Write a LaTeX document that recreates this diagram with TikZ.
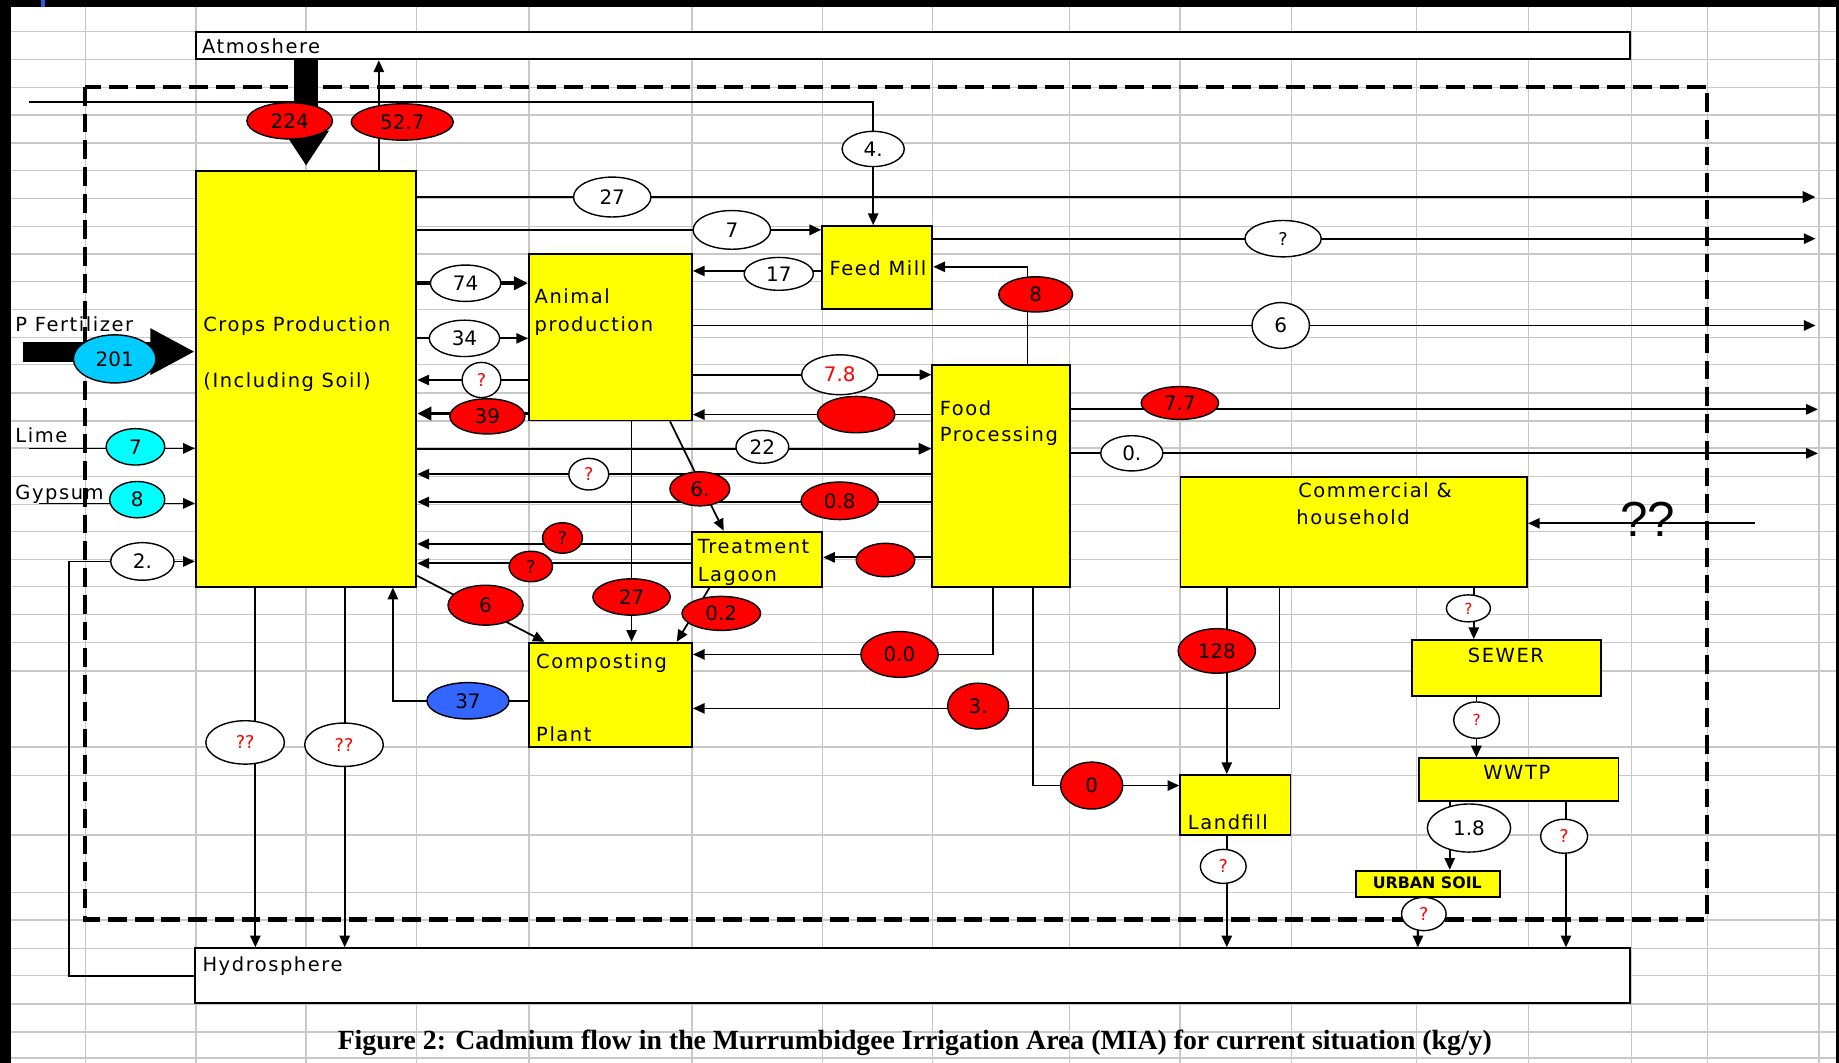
\documentclass[tikz,border=0pt]{standalone}
\usepackage{graphicx}
\usepackage{fontspec}
\usetikzlibrary{arrows.meta,shapes.geometric,calc}

\newfontfamily\dvs[LetterSpace=8]{DejaVu Sans}
\newfontfamily\dvsplain{DejaVu Sans}
\newfontfamily\lsans{Liberation Sans}
\newfontfamily\lserif{Liberation Serif}

\definecolor{cellgrid}{RGB}{200,200,200}
\definecolor{boxyellow}{RGB}{255,255,0}
\definecolor{flowred}{RGB}{255,0,0}
\definecolor{flowcyan}{RGB}{0,204,255}
\definecolor{flowaqua}{RGB}{0,255,255}
\definecolor{flowblue}{RGB}{51,102,255}
\definecolor{tabblue}{RGB}{40,90,220}

\newcommand\lblfont{\dvs\fontsize{8.3}{10}\selectfont}
\newcommand\numfont{\dvsplain\fontsize{8.5}{10}\selectfont}
\newcommand\qfont{\dvsplain\fontsize{7.5}{9}\selectfont}
\newcommand\qsfont{\dvsplain\fontsize{6.5}{8}\selectfont}

\pgfdeclarelayer{sheet}
\pgfdeclarelayer{wires}
\pgfsetlayers{sheet,wires,main}

\tikzset{
  x=0.5pt, y=-0.5pt,
  gridln/.style={draw=cellgrid, line width=0.55pt},
  box/.style={rectangle, draw, line width=0.8pt, fill=boxyellow, inner sep=0pt},
  sphere/.style={rectangle, draw, line width=0.8pt, fill=white, inner sep=0pt},
  ell/.style={ellipse, draw, line width=0.6pt, inner sep=0pt, font=\numfont},
  wht/.style={ell, fill=white},
  redov/.style={ell, fill=flowred},
  blueov/.style={ell, fill=flowblue},
  cyanov/.style={ell, fill=flowcyan},
  aquaov/.style={ell, fill=flowaqua},
  qred/.style={text=flowred, font=\qfont},
  qsmall/.style={font=\qsfont},
  qblack/.style={font=\qfont},
  wire/.style={line width=0.75pt},
  arr/.style={wire, -{Triangle[length=5pt,width=4.4pt]}},
  heavy/.style={line width=1.6pt, -{Triangle[length=6pt,width=5.6pt]}},
  medium/.style={line width=1.05pt, -{Triangle[length=5.5pt,width=4.8pt]}},
  boundary/.style={line width=1.8pt, dash pattern=on 8pt off 3.4pt},
  lbl/.style={font=\lblfont, inner sep=0pt, anchor=base west},
  lblc/.style={font=\lblfont, inner sep=0pt, anchor=base},
}

% rectangle from its two corners
\newcommand\blk[6]{\node[#1, minimum width={(#5-#3)*0.5pt}, minimum height={(#6-#4)*0.5pt}] (#2) at ({(#3+#5)/2},{(#4+#6)/2}) {};}
% flow value in an oval: style, name, centre, width, height, text
\newcommand\ov[6]{\node[#1, minimum width={#4*0.5pt}, minimum height={#5*0.5pt}] (#2) at (#3) {#6};}

\begin{document}
\begin{tikzpicture}
\useasboundingbox (0,0) rectangle (1568,906);

% worksheet background and cell grid
\begin{pgfonlayer}{sheet}
  \fill[white] (0,0) rectangle (1568,906);
  \foreach \gx in {73,167,261,355,451,590,701,795,912,1006,1101,1208,1303,1391,1456,1551}
    \draw[gridln] (\gx,5.7) -- (\gx,906);
  \foreach \gy in {27,50.6,74.5,98,122,145.5,169,193,216.6,240,264,288,311,335,359,382,406,430,453,477,500,524,548,572,637,661,712,761,784.5,808.5,832,856,880,902}
    \draw[gridln] (9.4,\gy) -- (1565,\gy);
  \fill[black] (0,0) rectangle (9.4,906);
  \fill[black] (0,0) rectangle (1568,5.7);
  \fill[black] (1565,0) rectangle (1568,906);
  \fill[tabblue] (35,0) rectangle (38,5.7);
\end{pgfonlayer}

% compartments
\blk{sphere}{atm}{167}{27}{1390}{50.6}
\blk{sphere}{hyd}{166.5}{808.5}{1390}{855.5}
\blk{box}{crops}{167}{145.5}{355}{500.2}
\blk{box}{animal}{451}{216.6}{590}{358.5}
\blk{box}{feed}{701}{192.7}{795}{263.8}
\blk{box}{food}{795}{311.2}{912}{500.2}
\blk{box}{lagoon}{590}{453.3}{701}{500.2}
\blk{box}{compost}{451}{548}{590}{636.7}
\blk{box}{comm}{1006.5}{406.4}{1302}{500.2}
\blk{box}{sewer}{1204}{545.7}{1364.8}{593.5}
\blk{box}{wwtp}{1209.6}{646.6}{1380}{682.7}
\blk{box}{landfill}{1006.3}{660.8}{1100.3}{712}
\blk{box}{urban}{1156.5}{742.4}{1279}{765.1}

% flow values
\ov{redov}{e224}{247,103}{73}{31}{224}
\ov{redov}{e527}{343,104}{87}{31}{52.7}
\ov{wht}{e4}{744.5,127}{53}{30}{4.}
\ov{wht}{e27}{522,168}{66}{34}{27}
\ov{wht}{e7}{624,196}{66}{33}{7}
\ov{wht,qblack}{eqa}{1094,203.5}{65}{31}{?}
\ov{wht}{e17}{664,233.5}{59}{28}{17}
\ov{redov}{e8}{883,251}{63}{30}{8}
\ov{wht}{e74}{397,241.5}{60}{31}{74}
\ov{wht}{e34}{396,288.5}{60}{31}{34}
\ov{wht}{e6w}{1092,277.5}{49}{39}{6}
\ov{wht,qred}{eqb}{410.5,324}{33}{30}{?}
\ov{wht,text=flowred}{e78}{716,319.5}{65}{34}{7.8}
\ov{redov}{e39}{415.5,355}{64}{30}{39}
\ov{redov}{eblA}{730,353.5}{66}{31}{}
\ov{redov}{e77}{1006,343.6}{66}{28}{7.7}
\ov{wht}{e22}{650,381}{45}{28}{22}
\ov{wht}{e0d}{965,386.5}{53}{30}{0.}
\ov{wht,qred}{eqc}{502,404.3}{34}{27}{?}
\ov{redov}{e6d}{596.7,416.8}{51}{29}{6.}
\ov{redov}{e08}{716,427}{66}{32}{0.8}
\ov{redov,qblack}{eqd}{479.6,458.7}{34}{26}{?}
\ov{redov,qblack}{eqe}{452.6,483}{37}{26}{?}
\ov{redov}{eblB}{755,477.5}{50}{28.5}{}
\ov{redov}{e6r}{414,516}{64}{34}{6}
\ov{redov}{e27r}{538.5,509}{66}{31}{27}
\ov{redov}{e02}{615,523}{67}{29}{0.2}
\ov{redov}{e00}{767,558}{66}{39}{0.0}
\ov{redov}{e3}{834,602}{52}{39}{3.}
\ov{blueov}{e37}{399,597.5}{70}{31}{37}
\ov{redov}{e128}{1037.5,555}{66}{38}{128}
\ov{redov}{e0}{930.8,669.8}{53}{40}{0}
\ov{wht,qred,qsmall}{eqf}{1252,518.7}{37.5}{23}{?}
\ov{wht,qred,qsmall}{eqg}{1259,614}{39}{31}{?}
\ov{wht}{e18}{1252.5,706}{71}{41}{1.8}
\ov{wht,qred}{eqh}{1333.6,713}{40}{29}{?}
\ov{wht,qred}{eqi}{1043,738.7}{39}{29}{?}
\ov{wht,qred}{eqj}{1214,779.3}{38}{28.4}{?}
\ov{wht,qred}{eqk}{209,633}{67}{37}{??}
\ov{wht,qred}{eql}{293.3,635}{67}{37}{??}
\ov{cyanov}{e201}{97.8,306}{70.5}{41}{201}
\ov{aquaov}{e7c}{115.5,381}{50}{31}{7}
\ov{aquaov}{e8c}{117,426}{47}{31}{8}
\ov{wht}{e2}{121.4,478.7}{54}{32}{2.}

% rows and columns the flows run along
\coordinate (srcL) at (25,86.7);
\coordinate (outR) at (1548,0);
\coordinate (outR2) at (1550,0);
\coordinate (fertL) at (19.3,299.8);
\coordinate (limeL) at (25,382.3);
\coordinate (gypL) at (33.5,429.2);
\coordinate (qqR) at (1496.5,446.2);
\coordinate (r228) at (0,227.5);
\coordinate (r231) at (0,231);
\coordinate (r349) at (0,349);
\coordinate (r353) at (0,352.6);
\coordinate (r382) at (0,382.6);
\coordinate (r428) at (0,428);
\coordinate (r464) at (0,463.8);
\coordinate (r475) at (0,475.2);
\coordinate (r480) at (0,480.3);
\coordinate (r491) at (0,491);
\coordinate (r604) at (0,604);
\coordinate (r832) at (0,832.2);
\coordinate (x261) at (261,0);
\coordinate (x323) at (323,0);
\coordinate (x876) at (876,0);
\coordinate (x571) at (571.3,0);
\coordinate (x617) at (617,0);
\coordinate (x464) at (464.4,0);
\coordinate (x605) at (605,0);
\coordinate (x577) at (577,0);
\coordinate (x846) at (846.6,0);
\coordinate (x1091) at (1091,0);
\coordinate (x335) at (335,0);
\coordinate (x1046) at (1046,0);
\coordinate (x881) at (881,0);
\coordinate (x1257) at (1256.6,0);
\coordinate (x1259) at (1258.8,0);
\coordinate (x1236) at (1236.1,0);
\coordinate (x1335) at (1335.2,0);
\coordinate (x1209) at (1209,0);
\coordinate (x218) at (217.7,0);
\coordinate (x294) at (293.9,0);
\coordinate (x59) at (58.8,0);

\begin{pgfonlayer}{wires}
  % system boundary
  \draw[boundary] (72.5,74) rectangle (1455.6,784);
  % deposition from and emission to the atmosphere
  \draw[line width=10.25pt, -{Triangle[length=15pt,width=18.5pt]}, shorten >=1.7pt] (atm.south -| x261) -- (crops.north -| x261);
  \draw[arr] (crops.north -| x323) -- (atm.south -| x323);
  \draw[arr] (srcL) -| (feed.north -| e4);
  % inputs to crops
  \draw[line width=8.5pt, -{Triangle[length=19pt,width=18.5pt]}] (fertL) -- (crops.west |- fertL);
  \draw[arr] (limeL) -- (crops.west |- limeL);
  \draw[arr] (gypL) -- (crops.west |- gypL);
  \draw[arr] (hyd.west |- r832) -| (x59 |- e2) -- (crops.west |- e2);
  % flows out of crops
  \draw[line width=1.05pt, -{Triangle[length=5.5pt,width=4.8pt]}] (crops.east |- e27) -- (outR |- e27);
  \draw[line width=0.9pt, -{Triangle[length=5pt,width=4.4pt]}] (crops.east |- e7) -- (feed.west |- e7);
  \draw[heavy] (crops.east |- e74) -- (animal.west |- e74);
  \draw[arr] (crops.east |- e34) -- (animal.west |- e34);
  \draw[medium] (crops.east |- r382) -- (food.west |- r382);
  \draw[arr] (crops.east |- r491) -- (compost.north -| x464);
  \draw[arr] (crops.south -| x218) -- (hyd.north -| x218);
  \draw[arr] (crops.south -| x294) -- (hyd.north -| x294);
  % feed mill
  \draw[arr] (feed.east |- eqa) -- (outR |- eqa);
  \draw[arr] (feed.west |- r231) -- (animal.east |- r231);
  \draw[arr] (food.north -| x876) |- (feed.east |- r228);
  % animal production
  \draw[arr] (animal.east |- e6w) -- (outR |- e6w);
  \draw[arr] (animal.west |- eqb) -- (crops.east |- eqb);
  \draw[arr] (animal.east |- e78) -- (food.west |- e78);
  \draw[heavy] (animal.west |- r353) -- (crops.east |- r353);
  \draw[arr] (animal.south -| x571) -- (lagoon.north -| x617);
  \draw[arr] (animal.south -| e27r) -- (compost.north -| e27r);
  % food processing
  \draw[arr] (food.west |- eblA) -- (animal.east |- eblA);
  \draw[arr] (food.east |- r349) -- (outR2 |- r349);
  \draw[arr] (food.east |- e0d) -- (outR2 |- e0d);
  \draw[arr] (food.west |- eqc) -- (crops.east |- eqc);
  \draw[arr] (food.west |- r428) -- (crops.east |- r428);
  \draw[arr] (food.west |- r475) -- (lagoon.east |- r475);
  \draw[arr] (food.south -| x846) |- (compost.east |- e00);
  \draw[arr] (food.south -| x881) |- (landfill.west |- e0);
  % treatment lagoon
  \draw[arr] (lagoon.west |- r464) -- (crops.east |- r464);
  \draw[arr] (lagoon.west |- r480) -- (crops.east |- r480);
  \draw[arr] (lagoon.south -| x605) -- (compost.north -| x577);
  % composting plant
  \draw[arr] (compost.west |- e37) -| (crops.south -| x335);
  % commercial and household chain
  \draw[arr] (qqR) -- (comm.east |- qqR);
  \draw[arr] (comm.south -| x1091) |- (compost.east |- r604);
  \draw[arr] (comm.south -| x1046) -- (landfill.north -| x1046);
  \draw[arr] (comm.south -| x1257) -- (sewer.north -| x1257);
  \draw[arr] (sewer.south -| x1259) -- (wwtp.north -| x1259);
  \draw[arr] (wwtp.south -| x1236) -- (urban.north -| x1236);
  \draw[arr] (wwtp.south -| x1335) -- (hyd.north -| x1335);
  \draw[arr] (landfill.south -| x1046) -- (hyd.north -| x1046);
  \draw[arr] (urban.south -| x1209) -- (hyd.north -| x1209);
\end{pgfonlayer}

% labels
\node[lbl] (tAtm) at (172,45.5) {Atmoshere};
\node[lbl] (tHyd) at (172.3,828.5) {Hydrosphere};
\node[lbl] (tFert) at (12.8,282.8) {P Fertilizer};
\node[lbl] (tLime) at (12.8,377.4) {Lime};
\node[lbl] (tGyp) at (12.8,425.5) {Gypsum};
\node[lbl] (tCrops1) at (173,282.8) {Crops Production};
\node[lbl] (tCrops2) at (173,330) {(Including Soil)};
\node[lbl] (tAnim1) at (455.5,258.7) {Animal};
\node[lbl] (tAnim2) at (455.5,282.8) {production};
\node[lbl] (tFeed) at (707,234.5) {Feed Mill};
\node[lbl] (tFood1) at (801,353.9) {Food};
\node[lbl] (tFood2) at (801,376.6) {Processing};
\node[lbl] (tLag1) at (594.6,471.8) {Treatment};
\node[lbl] (tLag2) at (594.6,495.4) {Lagoon};
\node[lbl] (tComp1) at (456.8,569.9) {Composting};
\node[lbl] (tComp2) at (456.8,632.4) {Plant};
\node[lbl] (tComm1) at (1106.6,424) {Commercial \&};
\node[lbl] (tComm2) at (1105,447.6) {household};
\node[lblc] (tSewer) at (1284,565) {SEWER};
\node[lblc] (tWwtp) at (1293.3,665) {WWTP};
\node[lbl] (tLand) at (1012.5,707) {Landfill};
\node[font=\dvsplain\bfseries\fontsize{6.75}{8}\selectfont, inner sep=0pt, anchor=base] (tUrban) at (1217,757.4) {URBAN SOIL};
\node[font=\lsans\fontsize{21}{24}\selectfont, inner sep=0pt] (tQQ) at (1405,443) {??};
\node[font=\lserif\bfseries, inner sep=0pt, anchor=base] (caption) at (780,894.5)
  {\resizebox{492pt}{!}{Figure 2: Cadmium flow in the Murrumbidgee Irrigation Area (MIA) for current situation (kg/y)}};
\end{tikzpicture}
\end{document}
